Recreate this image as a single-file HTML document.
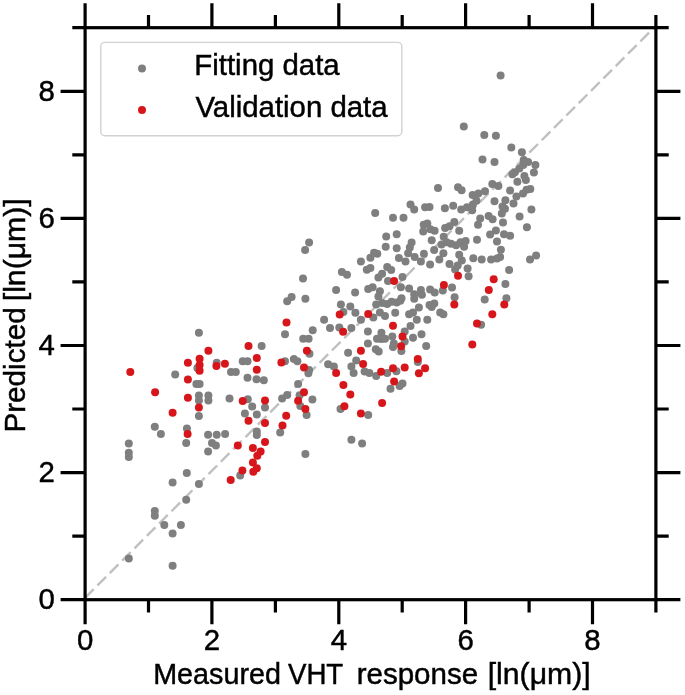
<!DOCTYPE html>
<html><head><meta charset="utf-8"><title>Predicted vs measured VHT response</title>
<style>html,body{margin:0;padding:0;background:#fff}svg{display:block}text{font-family:"Liberation Sans",Arial,sans-serif;fill:#000;stroke:#000;stroke-width:0.45px}</style></head><body>
<svg width="685" height="695" viewBox="0 0 685 695">
<defs><filter id="soft" x="0" y="0" width="100%" height="100%" filterUnits="userSpaceOnUse"><feGaussianBlur stdDeviation="0.55"/></filter></defs>
<rect width="685" height="695" fill="#fff"/>
<g filter="url(#soft)">
<line x1="85.1" y1="597.8000000000001" x2="655.9" y2="25.8" stroke="#c0c0c0" stroke-width="2.4" stroke-dasharray="12.2 5.27"/>
<g fill="#7f7f7f">
<circle cx="154.8" cy="510.9" r="4"/>
<circle cx="154.8" cy="515.8" r="4"/>
<circle cx="164.3" cy="525.1" r="4"/>
<circle cx="172.6" cy="533.6" r="4"/>
<circle cx="180.9" cy="525.1" r="4"/>
<circle cx="128.8" cy="558.4" r="4"/>
<circle cx="172.6" cy="565.7" r="4"/>
<circle cx="154.8" cy="426.7" r="4"/>
<circle cx="160.9" cy="433.9" r="4"/>
<circle cx="128.8" cy="443.4" r="4"/>
<circle cx="128.8" cy="452.8" r="4"/>
<circle cx="128.8" cy="456.9" r="4"/>
<circle cx="172.6" cy="482.6" r="4"/>
<circle cx="198.9" cy="416.1" r="4"/>
<circle cx="252.2" cy="406.6" r="4"/>
<circle cx="265.0" cy="407.6" r="4"/>
<circle cx="244.9" cy="413.6" r="4"/>
<circle cx="256.8" cy="414.6" r="4"/>
<circle cx="280.2" cy="432.4" r="4"/>
<circle cx="186.9" cy="428.5" r="4"/>
<circle cx="186.2" cy="443.1" r="4"/>
<circle cx="208.1" cy="434.7" r="4"/>
<circle cx="216.7" cy="434.7" r="4"/>
<circle cx="225.1" cy="433.9" r="4"/>
<circle cx="212.0" cy="443.1" r="4"/>
<circle cx="215.9" cy="445.5" r="4"/>
<circle cx="208.1" cy="451.5" r="4"/>
<circle cx="256.8" cy="431.4" r="4"/>
<circle cx="256.8" cy="435.0" r="4"/>
<circle cx="240.2" cy="475.6" r="4"/>
<circle cx="186.8" cy="473.0" r="4"/>
<circle cx="198.9" cy="483.9" r="4"/>
<circle cx="186.2" cy="499.7" r="4"/>
<circle cx="312.4" cy="399.6" r="4"/>
<circle cx="300.3" cy="406.1" r="4"/>
<circle cx="306.6" cy="414.9" r="4"/>
<circle cx="340.5" cy="409.1" r="4"/>
<circle cx="368.2" cy="414.9" r="4"/>
<circle cx="351.4" cy="439.7" r="4"/>
<circle cx="362.1" cy="443.4" r="4"/>
<circle cx="305.4" cy="454.0" r="4"/>
<circle cx="175.2" cy="374.5" r="4"/>
<circle cx="198.9" cy="332.8" r="4"/>
<circle cx="261.6" cy="346.0" r="4"/>
<circle cx="197.4" cy="367.9" r="4"/>
<circle cx="216.7" cy="362.8" r="4"/>
<circle cx="242.7" cy="361.3" r="4"/>
<circle cx="247.5" cy="361.3" r="4"/>
<circle cx="231.0" cy="372.0" r="4"/>
<circle cx="235.8" cy="372.0" r="4"/>
<circle cx="247.5" cy="377.8" r="4"/>
<circle cx="256.5" cy="379.3" r="4"/>
<circle cx="263.8" cy="380.3" r="4"/>
<circle cx="196.4" cy="383.9" r="4"/>
<circle cx="199.6" cy="383.9" r="4"/>
<circle cx="198.9" cy="395.6" r="4"/>
<circle cx="198.9" cy="400.4" r="4"/>
<circle cx="208.4" cy="395.6" r="4"/>
<circle cx="208.4" cy="400.4" r="4"/>
<circle cx="229.5" cy="398.5" r="4"/>
<circle cx="247.8" cy="399.3" r="4"/>
<circle cx="282.1" cy="398.5" r="4"/>
<circle cx="287.2" cy="301.2" r="4"/>
<circle cx="305.4" cy="298.8" r="4"/>
<circle cx="285.0" cy="334.3" r="4"/>
<circle cx="285.0" cy="361.3" r="4"/>
<circle cx="312.7" cy="330.2" r="4"/>
<circle cx="303.2" cy="338.7" r="4"/>
<circle cx="308.6" cy="338.7" r="4"/>
<circle cx="309.5" cy="353.7" r="4"/>
<circle cx="293.8" cy="359.1" r="4"/>
<circle cx="297.4" cy="361.3" r="4"/>
<circle cx="309.1" cy="370.1" r="4"/>
<circle cx="308.4" cy="373.3" r="4"/>
<circle cx="298.1" cy="383.9" r="4"/>
<circle cx="299.6" cy="395.2" r="4"/>
<circle cx="287.2" cy="394.9" r="4"/>
<circle cx="324.1" cy="319.7" r="4"/>
<circle cx="330.0" cy="328.0" r="4"/>
<circle cx="339.3" cy="327.4" r="4"/>
<circle cx="343.4" cy="312.0" r="4"/>
<circle cx="340.9" cy="304.4" r="4"/>
<circle cx="350.3" cy="306.6" r="4"/>
<circle cx="355.4" cy="312.8" r="4"/>
<circle cx="351.4" cy="328.0" r="4"/>
<circle cx="360.9" cy="319.7" r="4"/>
<circle cx="373.3" cy="317.5" r="4"/>
<circle cx="376.2" cy="304.4" r="4"/>
<circle cx="382.1" cy="302.9" r="4"/>
<circle cx="379.9" cy="312.4" r="4"/>
<circle cx="385.0" cy="316.1" r="4"/>
<circle cx="367.9" cy="331.4" r="4"/>
<circle cx="367.9" cy="343.4" r="4"/>
<circle cx="381.4" cy="332.8" r="4"/>
<circle cx="377.0" cy="338.7" r="4"/>
<circle cx="381.1" cy="339.1" r="4"/>
<circle cx="375.8" cy="349.3" r="4"/>
<circle cx="378.7" cy="351.4" r="4"/>
<circle cx="348.1" cy="352.8" r="4"/>
<circle cx="356.2" cy="360.6" r="4"/>
<circle cx="351.4" cy="366.4" r="4"/>
<circle cx="353.6" cy="373.0" r="4"/>
<circle cx="328.1" cy="364.2" r="4"/>
<circle cx="333.9" cy="366.4" r="4"/>
<circle cx="364.6" cy="371.5" r="4"/>
<circle cx="369.4" cy="373.0" r="4"/>
<circle cx="376.2" cy="375.9" r="4"/>
<circle cx="387.2" cy="304.1" r="4"/>
<circle cx="391.6" cy="301.8" r="4"/>
<circle cx="396.7" cy="302.6" r="4"/>
<circle cx="400.3" cy="300.7" r="4"/>
<circle cx="414.2" cy="298.8" r="4"/>
<circle cx="395.2" cy="312.8" r="4"/>
<circle cx="409.1" cy="314.2" r="4"/>
<circle cx="413.0" cy="312.4" r="4"/>
<circle cx="418.9" cy="307.6" r="4"/>
<circle cx="429.5" cy="305.1" r="4"/>
<circle cx="434.3" cy="303.6" r="4"/>
<circle cx="431.7" cy="307.0" r="4"/>
<circle cx="440.2" cy="312.4" r="4"/>
<circle cx="443.4" cy="314.3" r="4"/>
<circle cx="484.7" cy="299.6" r="4"/>
<circle cx="481.1" cy="324.8" r="4"/>
<circle cx="416.8" cy="319.7" r="4"/>
<circle cx="427.3" cy="319.7" r="4"/>
<circle cx="410.5" cy="326.0" r="4"/>
<circle cx="404.7" cy="331.4" r="4"/>
<circle cx="421.5" cy="334.3" r="4"/>
<circle cx="413.0" cy="337.7" r="4"/>
<circle cx="392.3" cy="336.5" r="4"/>
<circle cx="393.8" cy="343.5" r="4"/>
<circle cx="393.0" cy="347.0" r="4"/>
<circle cx="385.0" cy="338.7" r="4"/>
<circle cx="404.7" cy="341.6" r="4"/>
<circle cx="401.4" cy="351.1" r="4"/>
<circle cx="426.2" cy="346.0" r="4"/>
<circle cx="417.8" cy="362.0" r="4"/>
<circle cx="396.4" cy="371.2" r="4"/>
<circle cx="387.2" cy="373.0" r="4"/>
<circle cx="402.5" cy="383.5" r="4"/>
<circle cx="399.6" cy="386.1" r="4"/>
<circle cx="390.5" cy="388.8" r="4"/>
<circle cx="375.2" cy="213.1" r="4"/>
<circle cx="309.1" cy="242.6" r="4"/>
<circle cx="305.1" cy="250.1" r="4"/>
<circle cx="374.1" cy="252.8" r="4"/>
<circle cx="377.3" cy="253.7" r="4"/>
<circle cx="370.4" cy="257.7" r="4"/>
<circle cx="360.9" cy="261.6" r="4"/>
<circle cx="366.8" cy="269.8" r="4"/>
<circle cx="370.4" cy="267.9" r="4"/>
<circle cx="378.4" cy="277.4" r="4"/>
<circle cx="382.1" cy="273.7" r="4"/>
<circle cx="341.9" cy="272.0" r="4"/>
<circle cx="347.0" cy="274.7" r="4"/>
<circle cx="303.0" cy="278.4" r="4"/>
<circle cx="336.1" cy="290.1" r="4"/>
<circle cx="355.1" cy="292.4" r="4"/>
<circle cx="368.2" cy="289.1" r="4"/>
<circle cx="372.6" cy="287.3" r="4"/>
<circle cx="379.9" cy="291.2" r="4"/>
<circle cx="378.4" cy="296.4" r="4"/>
<circle cx="291.6" cy="297.1" r="4"/>
<circle cx="410.5" cy="204.4" r="4"/>
<circle cx="414.2" cy="209.5" r="4"/>
<circle cx="425.1" cy="207.3" r="4"/>
<circle cx="429.5" cy="206.9" r="4"/>
<circle cx="444.9" cy="208.3" r="4"/>
<circle cx="453.2" cy="205.8" r="4"/>
<circle cx="461.2" cy="209.5" r="4"/>
<circle cx="467.0" cy="207.3" r="4"/>
<circle cx="472.2" cy="210.2" r="4"/>
<circle cx="472.9" cy="204.4" r="4"/>
<circle cx="476.5" cy="200.7" r="4"/>
<circle cx="393.0" cy="217.8" r="4"/>
<circle cx="403.5" cy="217.8" r="4"/>
<circle cx="480.2" cy="218.5" r="4"/>
<circle cx="478.0" cy="224.8" r="4"/>
<circle cx="423.7" cy="224.8" r="4"/>
<circle cx="427.3" cy="223.4" r="4"/>
<circle cx="423.2" cy="231.4" r="4"/>
<circle cx="430.3" cy="229.2" r="4"/>
<circle cx="434.6" cy="230.7" r="4"/>
<circle cx="454.3" cy="221.9" r="4"/>
<circle cx="449.5" cy="226.3" r="4"/>
<circle cx="445.1" cy="228.0" r="4"/>
<circle cx="459.2" cy="230.7" r="4"/>
<circle cx="477.0" cy="239.7" r="4"/>
<circle cx="396.7" cy="234.3" r="4"/>
<circle cx="386.2" cy="236.5" r="4"/>
<circle cx="431.7" cy="240.3" r="4"/>
<circle cx="411.6" cy="242.6" r="4"/>
<circle cx="409.8" cy="247.4" r="4"/>
<circle cx="385.7" cy="246.7" r="4"/>
<circle cx="396.7" cy="248.2" r="4"/>
<circle cx="443.7" cy="236.8" r="4"/>
<circle cx="441.5" cy="244.5" r="4"/>
<circle cx="446.6" cy="242.3" r="4"/>
<circle cx="451.0" cy="243.8" r="4"/>
<circle cx="460.5" cy="242.3" r="4"/>
<circle cx="465.6" cy="240.9" r="4"/>
<circle cx="464.1" cy="246.7" r="4"/>
<circle cx="456.1" cy="245.3" r="4"/>
<circle cx="408.1" cy="253.3" r="4"/>
<circle cx="398.9" cy="257.9" r="4"/>
<circle cx="405.5" cy="261.5" r="4"/>
<circle cx="414.7" cy="256.9" r="4"/>
<circle cx="420.9" cy="261.5" r="4"/>
<circle cx="423.9" cy="253.8" r="4"/>
<circle cx="430.1" cy="264.5" r="4"/>
<circle cx="434.2" cy="250.0" r="4"/>
<circle cx="439.3" cy="259.4" r="4"/>
<circle cx="443.4" cy="253.3" r="4"/>
<circle cx="449.5" cy="264.0" r="4"/>
<circle cx="387.2" cy="267.1" r="4"/>
<circle cx="391.2" cy="270.1" r="4"/>
<circle cx="402.5" cy="277.0" r="4"/>
<circle cx="388.0" cy="280.9" r="4"/>
<circle cx="400.9" cy="287.2" r="4"/>
<circle cx="409.1" cy="288.5" r="4"/>
<circle cx="414.2" cy="294.2" r="4"/>
<circle cx="420.9" cy="290.1" r="4"/>
<circle cx="421.9" cy="294.7" r="4"/>
<circle cx="430.1" cy="289.6" r="4"/>
<circle cx="434.7" cy="292.6" r="4"/>
<circle cx="442.8" cy="290.6" r="4"/>
<circle cx="401.5" cy="298.2" r="4"/>
<circle cx="500.9" cy="249.7" r="4"/>
<circle cx="500.1" cy="256.9" r="4"/>
<circle cx="497.0" cy="258.4" r="4"/>
<circle cx="491.1" cy="259.4" r="4"/>
<circle cx="473.3" cy="258.2" r="4"/>
<circle cx="481.7" cy="259.4" r="4"/>
<circle cx="459.2" cy="254.8" r="4"/>
<circle cx="461.8" cy="260.4" r="4"/>
<circle cx="457.7" cy="265.5" r="4"/>
<circle cx="455.1" cy="269.6" r="4"/>
<circle cx="467.6" cy="268.6" r="4"/>
<circle cx="468.6" cy="276.3" r="4"/>
<circle cx="509.1" cy="269.9" r="4"/>
<circle cx="505.4" cy="284.1" r="4"/>
<circle cx="452.0" cy="287.5" r="4"/>
<circle cx="454.6" cy="297.2" r="4"/>
<circle cx="506.4" cy="298.2" r="4"/>
<circle cx="494.5" cy="201.2" r="4"/>
<circle cx="505.4" cy="200.3" r="4"/>
<circle cx="513.5" cy="203.6" r="4"/>
<circle cx="502.5" cy="206.6" r="4"/>
<circle cx="505.0" cy="208.8" r="4"/>
<circle cx="501.8" cy="213.4" r="4"/>
<circle cx="488.6" cy="216.1" r="4"/>
<circle cx="492.6" cy="219.3" r="4"/>
<circle cx="531.4" cy="209.5" r="4"/>
<circle cx="519.6" cy="216.5" r="4"/>
<circle cx="503.0" cy="222.6" r="4"/>
<circle cx="526.9" cy="227.3" r="4"/>
<circle cx="495.9" cy="230.4" r="4"/>
<circle cx="490.1" cy="234.6" r="4"/>
<circle cx="504.0" cy="234.3" r="4"/>
<circle cx="510.1" cy="235.8" r="4"/>
<circle cx="497.0" cy="241.6" r="4"/>
<circle cx="536.1" cy="255.5" r="4"/>
<circle cx="530.0" cy="259.6" r="4"/>
<circle cx="463.8" cy="126.6" r="4"/>
<circle cx="484.3" cy="135.0" r="4"/>
<circle cx="482.5" cy="159.6" r="4"/>
<circle cx="438.0" cy="188.0" r="4"/>
<circle cx="458.0" cy="187.3" r="4"/>
<circle cx="461.6" cy="190.2" r="4"/>
<circle cx="472.6" cy="194.9" r="4"/>
<circle cx="478.4" cy="193.4" r="4"/>
<circle cx="485.0" cy="191.2" r="4"/>
<circle cx="495.9" cy="135.8" r="4"/>
<circle cx="511.3" cy="147.4" r="4"/>
<circle cx="494.5" cy="162.0" r="4"/>
<circle cx="521.9" cy="152.3" r="4"/>
<circle cx="523.7" cy="159.9" r="4"/>
<circle cx="528.1" cy="162.0" r="4"/>
<circle cx="523.2" cy="165.0" r="4"/>
<circle cx="519.3" cy="168.6" r="4"/>
<circle cx="514.9" cy="172.3" r="4"/>
<circle cx="512.4" cy="174.2" r="4"/>
<circle cx="535.4" cy="165.0" r="4"/>
<circle cx="533.9" cy="172.6" r="4"/>
<circle cx="524.4" cy="175.9" r="4"/>
<circle cx="525.9" cy="180.0" r="4"/>
<circle cx="517.4" cy="181.8" r="4"/>
<circle cx="492.3" cy="183.9" r="4"/>
<circle cx="498.4" cy="186.1" r="4"/>
<circle cx="510.1" cy="190.5" r="4"/>
<circle cx="530.3" cy="189.1" r="4"/>
<circle cx="526.6" cy="189.8" r="4"/>
<circle cx="523.0" cy="193.4" r="4"/>
<circle cx="516.4" cy="196.4" r="4"/>
<circle cx="500.6" cy="75.5" r="4"/>
</g>
<g fill="#d7191c">
<circle cx="172.6" cy="412.7" r="4"/>
<circle cx="198.9" cy="407.6" r="4"/>
<circle cx="248.5" cy="420.7" r="4"/>
<circle cx="265.0" cy="423.1" r="4"/>
<circle cx="282.5" cy="425.5" r="4"/>
<circle cx="187.6" cy="433.9" r="4"/>
<circle cx="237.8" cy="445.5" r="4"/>
<circle cx="265.0" cy="442.0" r="4"/>
<circle cx="252.9" cy="447.9" r="4"/>
<circle cx="260.6" cy="451.4" r="4"/>
<circle cx="257.3" cy="455.8" r="4"/>
<circle cx="252.9" cy="462.5" r="4"/>
<circle cx="256.8" cy="468.3" r="4"/>
<circle cx="253.3" cy="471.8" r="4"/>
<circle cx="242.4" cy="470.5" r="4"/>
<circle cx="230.7" cy="480.0" r="4"/>
<circle cx="298.1" cy="400.7" r="4"/>
<circle cx="305.4" cy="409.1" r="4"/>
<circle cx="286.2" cy="415.8" r="4"/>
<circle cx="344.4" cy="406.3" r="4"/>
<circle cx="360.9" cy="413.6" r="4"/>
<circle cx="382.1" cy="402.9" r="4"/>
<circle cx="130.3" cy="372.0" r="4"/>
<circle cx="155.1" cy="392.3" r="4"/>
<circle cx="248.5" cy="346.0" r="4"/>
<circle cx="208.4" cy="350.7" r="4"/>
<circle cx="256.8" cy="358.0" r="4"/>
<circle cx="199.6" cy="358.8" r="4"/>
<circle cx="199.6" cy="365.0" r="4"/>
<circle cx="199.6" cy="370.8" r="4"/>
<circle cx="187.9" cy="362.8" r="4"/>
<circle cx="216.4" cy="366.0" r="4"/>
<circle cx="224.9" cy="363.8" r="4"/>
<circle cx="256.8" cy="369.8" r="4"/>
<circle cx="187.9" cy="379.6" r="4"/>
<circle cx="187.9" cy="397.8" r="4"/>
<circle cx="242.7" cy="401.0" r="4"/>
<circle cx="265.0" cy="400.4" r="4"/>
<circle cx="281.4" cy="362.5" r="4"/>
<circle cx="286.5" cy="322.6" r="4"/>
<circle cx="306.9" cy="350.8" r="4"/>
<circle cx="304.0" cy="367.4" r="4"/>
<circle cx="304.0" cy="392.3" r="4"/>
<circle cx="343.1" cy="331.8" r="4"/>
<circle cx="339.7" cy="314.6" r="4"/>
<circle cx="368.2" cy="313.9" r="4"/>
<circle cx="360.9" cy="350.7" r="4"/>
<circle cx="363.1" cy="363.9" r="4"/>
<circle cx="336.1" cy="373.0" r="4"/>
<circle cx="381.1" cy="371.8" r="4"/>
<circle cx="343.4" cy="385.0" r="4"/>
<circle cx="350.3" cy="394.6" r="4"/>
<circle cx="454.3" cy="304.4" r="4"/>
<circle cx="477.0" cy="323.4" r="4"/>
<circle cx="472.3" cy="344.5" r="4"/>
<circle cx="393.0" cy="325.8" r="4"/>
<circle cx="402.5" cy="336.5" r="4"/>
<circle cx="401.1" cy="346.3" r="4"/>
<circle cx="417.8" cy="359.1" r="4"/>
<circle cx="393.0" cy="368.3" r="4"/>
<circle cx="404.7" cy="367.4" r="4"/>
<circle cx="425.1" cy="368.3" r="4"/>
<circle cx="418.9" cy="373.3" r="4"/>
<circle cx="394.1" cy="381.5" r="4"/>
<circle cx="504.3" cy="304.4" r="4"/>
<circle cx="492.3" cy="314.2" r="4"/>
<circle cx="394.1" cy="280.9" r="4"/>
<circle cx="443.9" cy="285.0" r="4"/>
<circle cx="458.0" cy="275.8" r="4"/>
<circle cx="493.7" cy="279.3" r="4"/>
<circle cx="488.8" cy="290.1" r="4"/>
</g>
<rect x="100.8" y="42.4" width="301" height="93.3" rx="4" ry="4" fill="#fff" fill-opacity="0.8" stroke="#d2d2d2" stroke-width="1.4"/>
<circle cx="142" cy="68.4" r="4" fill="#7f7f7f"/><circle cx="142" cy="110" r="4" fill="#d7191c"/>
<text transform="translate(194.3,74.6) scale(1,1.03)" font-size="29.4" text-anchor="start">Fitting data</text>
<text transform="translate(195.4,116.7) scale(1,1.03)" font-size="29.4" text-anchor="start">Validation data</text>
<g stroke="#000" stroke-width="3.2" fill="none" stroke-linecap="butt">
<rect x="85.1" y="27.7" width="570.8" height="572.0"/>
<path d="M85.1 599.7v24.5M85.1 27.7v-24.5M85.1 599.7h-24.5M655.9 599.7h24.5"/>
<path d="M148.5 599.7v12.8M148.5 27.7v-12.8M85.1 536.1h-12.8M655.9 536.1h12.8"/>
<path d="M211.9 599.7v24.5M211.9 27.7v-24.5M85.1 472.6h-24.5M655.9 472.6h24.5"/>
<path d="M275.4 599.7v12.8M275.4 27.7v-12.8M85.1 409.0h-12.8M655.9 409.0h12.8"/>
<path d="M338.8 599.7v24.5M338.8 27.7v-24.5M85.1 345.5h-24.5M655.9 345.5h24.5"/>
<path d="M402.2 599.7v12.8M402.2 27.7v-12.8M85.1 281.9h-12.8M655.9 281.9h12.8"/>
<path d="M465.6 599.7v24.5M465.6 27.7v-24.5M85.1 218.4h-24.5M655.9 218.4h24.5"/>
<path d="M529.1 599.7v12.8M529.1 27.7v-12.8M85.1 154.8h-12.8M655.9 154.8h12.8"/>
<path d="M592.5 599.7v24.5M592.5 27.7v-24.5M85.1 91.3h-24.5M655.9 91.3h24.5"/>
<path d="M655.9 599.7v12.8M655.9 27.7v-12.8M85.1 27.7h-12.8M655.9 27.7h12.8"/>
</g>
<text transform="translate(85.1,650.3) scale(1,1.03)" font-size="29.4" text-anchor="middle">0</text>
<text transform="translate(54.8,609.4) scale(1,1.03)" font-size="29.4" text-anchor="end">0</text>
<text transform="translate(211.9,650.3) scale(1,1.03)" font-size="29.4" text-anchor="middle">2</text>
<text transform="translate(54.8,482.3) scale(1,1.03)" font-size="29.4" text-anchor="end">2</text>
<text transform="translate(338.8,650.3) scale(1,1.03)" font-size="29.4" text-anchor="middle">4</text>
<text transform="translate(54.8,355.2) scale(1,1.03)" font-size="29.4" text-anchor="end">4</text>
<text transform="translate(465.6,650.3) scale(1,1.03)" font-size="29.4" text-anchor="middle">6</text>
<text transform="translate(54.8,228.1) scale(1,1.03)" font-size="29.4" text-anchor="end">6</text>
<text transform="translate(592.5,650.3) scale(1,1.03)" font-size="29.4" text-anchor="middle">8</text>
<text transform="translate(54.8,101.0) scale(1,1.03)" font-size="29.4" text-anchor="end">8</text>
<text transform="translate(217.05,683.6) scale(1,1.03)" font-size="29.4" text-anchor="middle" textLength="127.7" lengthAdjust="spacingAndGlyphs">Measured</text>
<text transform="translate(315.6,683.6) scale(1,1.03)" font-size="29.4" text-anchor="middle" textLength="55.35" lengthAdjust="spacingAndGlyphs">VHT</text>
<text transform="translate(417.34999999999997,683.6) scale(1,1.03)" font-size="29.4" text-anchor="middle" textLength="121.4" lengthAdjust="spacingAndGlyphs">response</text>
<text transform="translate(539.15,683.6) scale(1,1.03)" font-size="29.4" text-anchor="middle" textLength="102.9" lengthAdjust="spacingAndGlyphs">[ln(μm)]</text>
<text transform="translate(24.6,369.9) rotate(-90) scale(1,1.03)" font-size="29.4" text-anchor="middle" textLength="125.4" lengthAdjust="spacingAndGlyphs">Predicted</text>
<text transform="translate(24.6,249.8) rotate(-90) scale(1,1.03)" font-size="29.4" text-anchor="middle" textLength="102.9" lengthAdjust="spacingAndGlyphs">[ln(μm)]</text>
</g></svg></body></html>
